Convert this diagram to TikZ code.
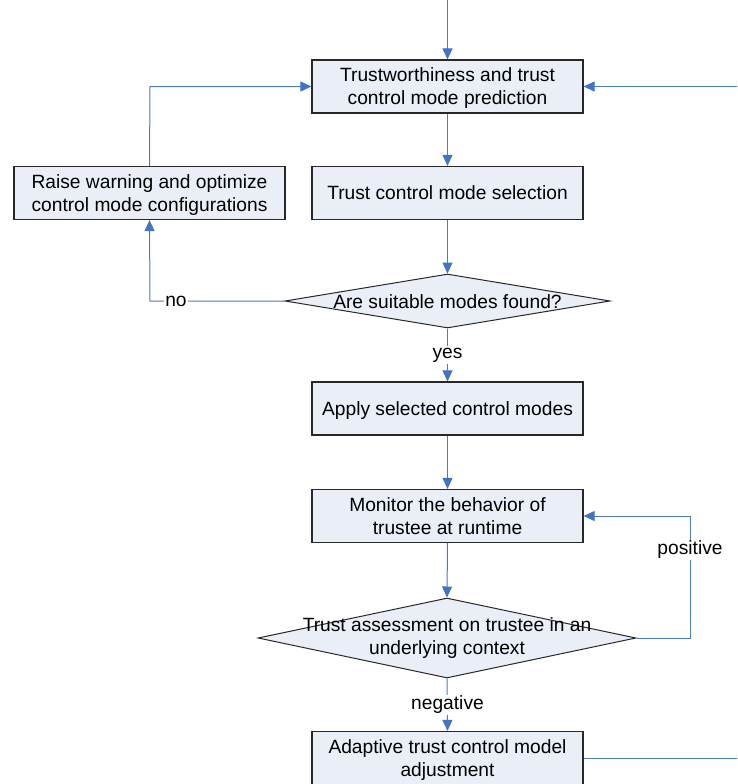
\documentclass[tikz,border=0pt]{standalone}
\usepackage{fontspec}
\setmainfont{Liberation Sans}
\usetikzlibrary{arrows.meta,shapes.geometric}
\definecolor{flow}{RGB}{74,126,187}
\definecolor{tip}{RGB}{68,114,196}
\definecolor{boxfill}{RGB}{233,238,247}
\definecolor{edge}{RGB}{40,40,40}
\tikzset{
  every node/.style={font=\fontsize{19.2}{23}\selectfont},
  stepbox/.style={draw=edge, line width=1.2pt, fill=boxfill, minimum width=271pt,
    minimum height=53pt, align=center, inner sep=0pt, text depth=-1pt},
  decision/.style={diamond, draw=edge, line width=1pt, fill=boxfill, inner sep=0pt},
  caption/.style={align=center, inner sep=0pt},
  tag/.style={fill=white, inner sep=1.5pt},
  flowline/.style={draw=flow, line width=1pt},
  flowarrow/.style={flowline, -{Triangle[length=11pt,width=10pt,color=tip]}},
}
\begin{document}
\begin{tikzpicture}[x=1pt,y=-1pt]
\useasboundingbox (0,0) rectangle (737,784);
\clip (0,0) rectangle (737,784);

% process boxes
\node[stepbox] (predict) at (447.5,86.5) {Trustworthiness and trust\\control mode prediction};
\node[stepbox] (select) at (447.5,193) {Trust control mode selection};
\node[stepbox] (warn) at (149.5,193) {Raise warning and optimize\\control mode configurations};
\node[stepbox] (apply) at (447.5,408.5) {Apply selected control modes};
\node[stepbox] (monitor) at (447.5,516) {Monitor the behavior of\\trustee at runtime};
\node[stepbox] (adjust) at (447.5,758) {Adaptive trust control model\\adjustment};

% decisions
\node[decision, minimum width=325pt, minimum height=54pt] (found) at (447.5,301) {};
\node[caption] (foundtext) at (447.5,302) {Are suitable modes found?};
\node[decision, minimum width=378pt, minimum height=80pt] (assess) at (447,638) {};
\node[caption] (assesstext) at (447,638) {Trust assessment on trustee in an\\underlying context};

% free ends at the border
\coordinate (entry) at (447.5,0);
\coordinate (rightin) at (737,86.5);
\coordinate (rightout) at (737,758);
\coordinate (nocorner) at (150,301);
\coordinate (upcorner) at (150,86.5);
\coordinate (posbottom) at (690,638);
\coordinate (postop) at (690,516);

% main flow
\draw[flowarrow] (entry) -- (predict.north);
\draw[flowarrow] (rightin) -- (predict.east);
\draw[flowarrow] (predict.south) -- (select.north);
\draw[flowarrow] (select.south) -- (found.north);
\draw[flowarrow] (found.south) -- (apply.north);
\node[tag] (yes) at (447.5,355) {yes};
\draw[flowarrow] (apply.south) -- (monitor.north);
\draw[flowarrow] (monitor.south) -- (assess.north);
\draw[flowarrow] (assess.south) -- (adjust.north);
\node[tag] (neg) at (447.5,705) {negative};
\draw[flowline] (adjust.east) -- (rightout);

% "no" branch and its return to the prediction step
\draw[flowarrow] (found.west) -- (nocorner) -- (warn.south);
\node[tag] (no) at (176,301) {no};
\draw[flowarrow] (warn.north) -- (upcorner) -- (predict.west);

% "positive" loop back to monitoring
\draw[flowarrow] (assess.east) -- (posbottom) -- (postop) -- (monitor.east);
\node[tag] (pos) at (690,550) {positive};
\end{tikzpicture}
\end{document}
